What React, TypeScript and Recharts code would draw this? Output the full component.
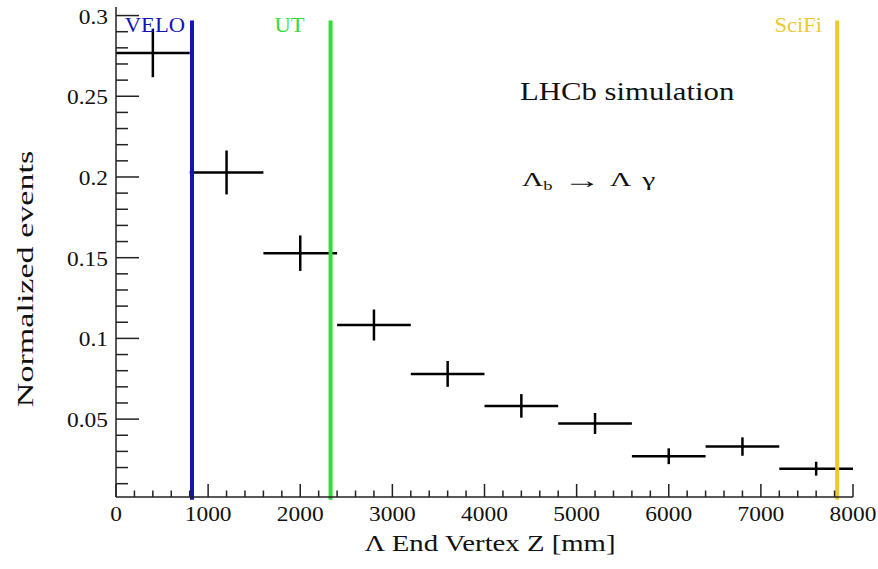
import { ScatterChart, Scatter, XAxis, YAxis, ErrorBar, ReferenceLine, Label } from 'recharts';

// Lambda end vertex z, bin centres [mm] and half bin width
const binCentres = [400, 1200, 2000, 2800, 3600, 4400, 5200, 6000, 6800, 7600];
const binHalfWidths = [400, 400, 400, 400, 400, 400, 400, 400, 400, 400];
const normalizedEvents = [0.2768, 0.2028, 0.1528, 0.1083, 0.078, 0.0582, 0.0473, 0.027, 0.033, 0.0193];
const statErrors = [0.015, 0.0136, 0.011, 0.0096, 0.008, 0.0073, 0.0065, 0.0049, 0.0057, 0.0043];

// detector stations
const detectorNames = ['VELO', 'UT', 'SciFi'];
const detectorZ = [825, 2329, 7828];
const detectorColors = ['#1313b8', '#33dd33', '#ebc936'];
const detectorLabelShift = [7, 26, 15];
const detectorTop = 0.297;

const xMajorTicks = [0, 1000, 2000, 3000, 4000, 5000, 6000, 7000, 8000];
const yMajorTicks = [0.05, 0.1, 0.15, 0.2, 0.25, 0.3];
const xDomain = [0, 8000];
const yDomain = [0.00175, 0.3053];

const xTicks = Array.from({ length: 41 }, (_, i) => i * 200);
const yTicks = Array.from({ length: 30 }, (_, i) => (i + 1) / 100);

const points = binCentres.map((z, i) => ({
  z,
  value: normalizedEvents[i],
  ex: binHalfWidths[i],
  ey: statErrors[i],
}));

const FONT = "'Liberation Serif', 'Times New Roman', serif";
const AXIS = '#222';

function WideText({ x, y, size, sx = 1.17, anchor = 'start', fill = '#111', rotate = 0, children }: any) {
  return (
    <text
      transform={`translate(${x},${y}) rotate(${rotate}) scale(${sx},1)`}
      textAnchor={anchor}
      fontFamily={FONT}
      fontSize={size}
      fill={fill}
    >
      {children}
    </text>
  );
}

const isMajor = (v: number, list: number[]) => list.some((m) => Math.abs(m - v) < 1e-6);

function YTick(props: any) {
  const { x, y, payload } = props;
  const major = isMajor(payload.value, yMajorTicks);
  const ax = x + 8;
  return (
    <g>
      <line x1={ax} x2={ax + (major ? 23 : 12)} y1={y} y2={y} stroke={AXIS} strokeWidth={1.5} />
      {major && (
        <WideText x={x} y={y + 8} size={20} anchor="end">
          {String(Number(payload.value.toFixed(2)))}
        </WideText>
      )}
    </g>
  );
}

function XTick(props: any) {
  const { x, y, payload } = props;
  const major = isMajor(payload.value, xMajorTicks);
  return (
    <g>
      <line x1={x} x2={x} y1={y} y2={y - (major ? 13 : 6.5)} stroke={AXIS} strokeWidth={1.5} />
      {major && (
        <WideText x={x} y={y + 24} size={20} anchor="middle">
          {payload.value}
        </WideText>
      )}
    </g>
  );
}

export default function App() {
  return (
    <div style={{ position: 'absolute', left: 0, top: 0, width: 878, height: 569, background: '#fff' }}>
      <ScatterChart width={878} height={569} margin={{ top: 7, right: 25, bottom: 0, left: 0 }}>
        <XAxis
          type="number"
          dataKey="z"
          domain={xDomain}
          allowDataOverflow
          ticks={xTicks}
          interval={0}
          tick={<XTick />}
          tickLine={false}
          tickSize={0}
          tickMargin={0}
          height={72}
          axisLine={{ stroke: AXIS, strokeWidth: 1.5 }}
        >
          <Label
            content={() => (
              <WideText x={490} y={551} size={23} sx={1.25} anchor="middle">
                Λ End Vertex Z [mm]
              </WideText>
            )}
          />
        </XAxis>
        <XAxis
          xAxisId="top"
          orientation="top"
          type="number"
          domain={xDomain}
          allowDataOverflow
          tick={false}
          tickLine={false}
          height={0}
          axisLine={{ stroke: AXIS, strokeWidth: 1.5 }}
        />
        <YAxis
          type="number"
          dataKey="value"
          domain={yDomain}
          allowDataOverflow
          ticks={yTicks}
          interval={0}
          tick={<YTick />}
          tickLine={false}
          tickSize={0}
          tickMargin={8}
          width={116}
          axisLine={{ stroke: AXIS, strokeWidth: 1.5 }}
        >
          <Label
            content={() => (
              <WideText x={33} y={279} size={24} sx={1.42} anchor="middle" rotate={-90}>
                Normalized events
              </WideText>
            )}
          />
        </YAxis>
        <YAxis
          yAxisId="right"
          orientation="right"
          type="number"
          domain={yDomain}
          allowDataOverflow
          tick={false}
          tickLine={false}
          width={0}
          axisLine={{ stroke: AXIS, strokeWidth: 1.5 }}
        />
        <Scatter data={points} isAnimationActive={false} shape={() => <g />}>
          <ErrorBar dataKey="ex" direction="x" width={0} stroke="#000" strokeWidth={2.5} isAnimationActive={false} />
          <ErrorBar dataKey="ey" direction="y" width={0} stroke="#000" strokeWidth={2.5} isAnimationActive={false} />
        </Scatter>
        {detectorNames.map((name, i) => (
          <ReferenceLine
            key={name}
            segment={[
              { x: detectorZ[i], y: detectorTop },
              { x: detectorZ[i], y: 0 },
            ]}
            stroke={detectorColors[i]}
            strokeWidth={4}
            ifOverflow="visible"
            label={(p: any) => (
              <WideText
                x={p.viewBox.x - detectorLabelShift[i]}
                y={p.viewBox.y + 12}
                size={20}
                sx={1.13}
                anchor="end"
                fill={detectorColors[i]}
              >
                {name}
              </WideText>
            )}
          />
        ))}
      </ScatterChart>
      <svg
        width={878}
        height={569}
        style={{ position: 'absolute', left: 0, top: 0, pointerEvents: 'none' }}
      >
        <WideText x={520} y={100} size={25} sx={1.23}>
          LHCb simulation
        </WideText>
        <WideText x={522} y={186} size={19} sx={1.55}>
          Λ
          <tspan fontSize={12} dy={4}>
            b
          </tspan>
          <tspan fontSize={24} dy={-2} dx={7}>
            →
          </tspan>
          <tspan dy={-2} dx={6}>
            Λ
          </tspan>
          <tspan dx={7}>γ</tspan>
        </WideText>
      </svg>
    </div>
  );
}
